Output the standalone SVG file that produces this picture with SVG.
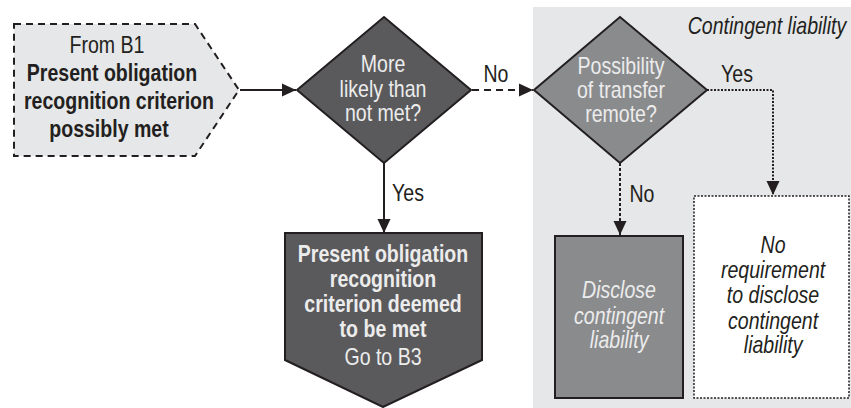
<svg xmlns="http://www.w3.org/2000/svg" width="851" height="408" viewBox="0 0 851 408">
<defs>
<style>
text{font-family:"Liberation Sans",Arial,sans-serif;font-size:23px;text-anchor:middle;fill:#231f20;transform-box:fill-box;transform-origin:50% 50%;transform:scaleX(0.85)}
.b{font-weight:bold}
.i{font-style:italic}
.lt{fill:#ececec}
.ln{fill:none;stroke:#231f20;stroke-width:2}
.r{text-anchor:end;transform-origin:100% 50%}
</style>
<marker id="ah" viewBox="0 0 14 14" refX="14" refY="7" markerWidth="14" markerHeight="14" markerUnits="userSpaceOnUse" orient="auto">
<path d="M0,0.5 L14,7 L0,13.5 Z" fill="#231f20"/>
</marker>
</defs>
<rect width="851" height="408" fill="#ffffff"/>
<g id="contingent-area">
<rect x="533" y="7" width="318" height="401" fill="#e6e7e8"/>
<text class="i r" x="846" y="34">Contingent liability</text>
</g>
<g id="start">
<path d="M14,24 L195,24 L239,90 L195,156 L14,156 Z" fill="#e6e7e8" stroke="#231f20" stroke-width="2" stroke-dasharray="7,5"/>
<text x="107" y="53">From B1</text>
<text class="b" x="112" y="81">Present obligation</text>
<text class="b" x="119" y="109">recognition criterion</text>
<text class="b" x="109" y="137">possibly met</text>
</g>
<g id="decision1">
<path d="M297,90 L384,17 L471,90 L384,163 Z" fill="#5a5a5c" stroke="#231f20" stroke-width="2"/>
<text class="lt" x="383" y="72">More</text>
<text class="lt" x="383" y="97">likely than</text>
<text class="lt" x="383" y="121">not met?</text>
</g>
<g id="decision2">
<path d="M534,90 L620,17 L707,90 L620,163 Z" fill="#8a8b8d" stroke="#231f20" stroke-width="2"/>
<text class="lt" x="621" y="74">Possibility</text>
<text class="lt" x="621" y="98">of transfer</text>
<text class="lt" x="621" y="122">remote?</text>
</g>
<g id="deemed-met">
<path d="M285,233 L482,233 L482,360 L383,407 L285,360 Z" fill="#5a5a5c" stroke="#231f20" stroke-width="2"/>
<text class="b lt" x="383" y="262">Present obligation</text>
<text class="b lt" x="383" y="287">recognition</text>
<text class="b lt" x="383" y="312">criterion deemed</text>
<text class="b lt" x="383" y="337">to be met</text>
<text class="lt" x="383" y="365">Go to B3</text>
</g>
<g id="disclose">
<rect x="555" y="236" width="128" height="162" fill="#8a8b8d" stroke="#231f20" stroke-width="2"/>
<text class="i lt" x="619" y="298">Disclose</text>
<text class="i lt" x="619" y="324">contingent</text>
<text class="i lt" x="619" y="348">liability</text>
</g>
<g id="no-requirement">
<rect x="694" y="196" width="155" height="202" fill="#ffffff" stroke="#231f20" stroke-width="1.5" stroke-dasharray="2,1.5"/>
<text class="i" x="773" y="253">No</text>
<text class="i" x="773" y="278">requirement</text>
<text class="i" x="773" y="303">to disclose</text>
<text class="i" x="773" y="329">contingent</text>
<text class="i" x="773" y="353">liability</text>
</g>
<g id="connectors">
<path class="ln" d="M240,90 L296,90" marker-end="url(#ah)"/>
<path class="ln" d="M472,90 L533,90" stroke-dasharray="7,5" marker-end="url(#ah)"/>
<path class="ln" d="M384,163 L384,233" marker-end="url(#ah)"/>
<path class="ln" d="M707,90 L773,90 L773,195" stroke-width="1.5" stroke-dasharray="2,1.5" marker-end="url(#ah)"/>
<path class="ln" d="M620,163 L620,235" stroke-dasharray="3,2" marker-end="url(#ah)"/>
<text x="496" y="82">No</text>
<text x="408" y="201">Yes</text>
<text x="737" y="82">Yes</text>
<text x="642" y="202">No</text>
</g>
</svg>
